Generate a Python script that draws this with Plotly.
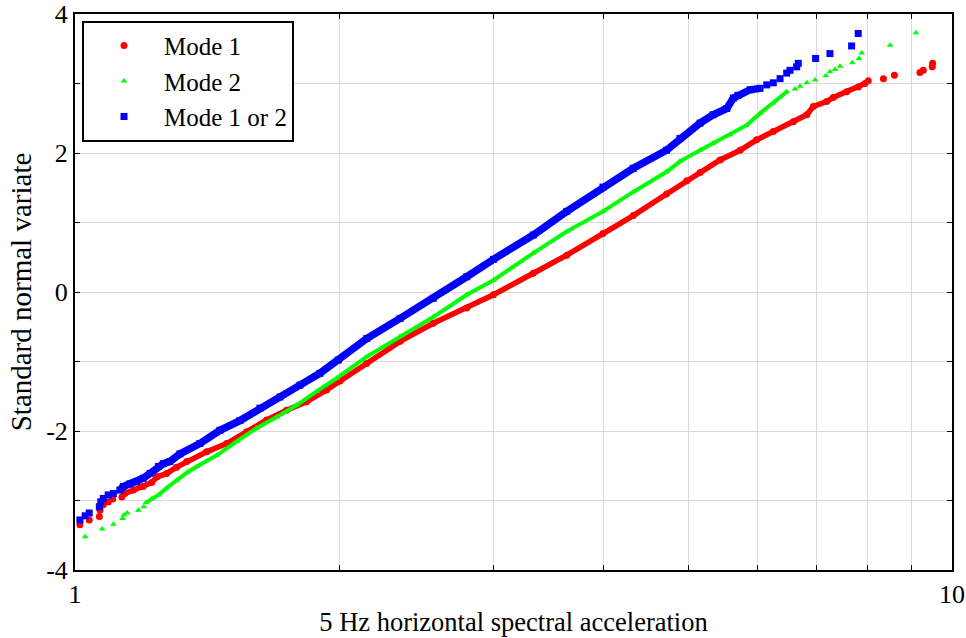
import plotly.graph_objects as go

# ---------------- data ----------------
# Mode 1 (red circles)
mode1_x = [1.013, 1.038, 1.066, 1.068, 1.077, 1.091, 1.104, 1.131, 1.140, 1.166,
           1.196, 1.223, 1.241, 1.272, 1.306, 1.341, 1.413, 1.489, 1.569, 1.654,
           1.743, 1.837, 1.936, 2.005, 2.151, 2.348, 2.562, 2.797, 3.000, 3.331,
           3.637, 4.000, 4.331, 4.727, 4.984, 5.161, 5.439, 5.733, 5.987, 6.255,
           6.592, 6.830, 6.948, 7.195, 7.321, 7.584, 7.819, 7.957, 8.026, 8.352,
           8.596, 9.193, 9.274, 9.495, 9.504]
mode1_y = [-3.35, -3.28, -3.23, -3.14, -3.06, -3.02, -2.98, -2.95, -2.90, -2.85,
           -2.80, -2.74, -2.66, -2.61, -2.52, -2.44, -2.30, -2.18, -2.01, -1.84,
           -1.70, -1.58, -1.41, -1.28, -1.03, -0.71, -0.45, -0.23, -0.04, 0.27,
           0.53, 0.84, 1.10, 1.41, 1.60, 1.72, 1.90, 2.04, 2.19, 2.31,
           2.45, 2.55, 2.67, 2.74, 2.80, 2.88, 2.95, 3.00, 3.04, 3.07,
           3.12, 3.16, 3.19, 3.24, 3.29]

# Mode 2 (green triangles)
mode2_x = [1.027, 1.074, 1.106, 1.133, 1.137, 1.147, 1.181, 1.198, 1.205, 1.223,
           1.245, 1.272, 1.306, 1.341, 1.377, 1.451, 1.529, 1.611, 1.698, 1.789,
           1.886, 1.988, 2.151, 2.348, 2.562, 2.797, 3.000, 3.331, 3.637, 4.000,
           4.331, 4.727, 4.896, 5.161, 5.340, 5.584, 5.833, 6.041, 6.255, 6.479,
           6.622, 6.710, 6.830, 6.980, 7.178, 7.258, 7.355, 7.452, 7.697, 7.834,
           7.889, 8.500, 9.097]
mode2_y = [-3.52, -3.41, -3.34, -3.26, -3.21, -3.18, -3.14, -3.09, -3.03, -2.98,
           -2.92, -2.82, -2.71, -2.60, -2.51, -2.35, -2.15, -1.96, -1.80, -1.63,
           -1.43, -1.24, -0.93, -0.64, -0.36, -0.04, 0.17, 0.56, 0.87, 1.16,
           1.44, 1.73, 1.88, 2.04, 2.14, 2.26, 2.40, 2.57, 2.72, 2.88,
           2.92, 2.96, 3.01, 3.05, 3.11, 3.17, 3.20, 3.25, 3.30, 3.36,
           3.44, 3.55, 3.73]

# Mode 1 or 2 (blue squares)
mode12_x = [1.013, 1.027, 1.038, 1.066, 1.070, 1.077, 1.091, 1.106, 1.125, 1.135,
            1.155, 1.176, 1.196, 1.218, 1.245, 1.261, 1.283, 1.317, 1.388, 1.463,
            1.542, 1.625, 1.713, 1.805, 1.902, 1.996, 2.151, 2.348, 2.562, 2.797,
            3.000, 3.331, 3.637, 4.000, 4.331, 4.727, 4.896, 5.161, 5.340, 5.536,
            5.632, 5.702, 5.884, 6.041, 6.148, 6.255, 6.367, 6.479, 6.536, 6.651,
            6.679, 6.990, 7.258, 7.683, 7.817]
mode12_y = [-3.28, -3.22, -3.18, -3.09, -3.02, -2.97, -2.92, -2.90, -2.85, -2.80,
            -2.76, -2.73, -2.68, -2.61, -2.51, -2.47, -2.44, -2.33, -2.18, -1.99,
            -1.85, -1.67, -1.51, -1.34, -1.17, -0.98, -0.67, -0.38, -0.09, 0.22,
            0.47, 0.82, 1.16, 1.51, 1.78, 2.04, 2.21, 2.43, 2.55, 2.64,
            2.79, 2.83, 2.91, 2.93, 2.98, 3.01, 3.07, 3.15, 3.19, 3.24,
            3.29, 3.36, 3.43, 3.54, 3.72]

series_names = ["Mode 1", "Mode 2", "Mode 1 or 2"]

x_tick_vals = [1, 2, 3, 4, 5, 6, 7, 8, 9, 10]
x_tick_text = ["1", "", "", "", "", "", "", "", "", "10"]
y_tick_vals = [-4, -3, -2, -1, 0, 1, 2, 3, 4]
y_tick_text = ["-4", "", "-2", "", "0", "", "2", "", "4"]

# ---------------- styling ----------------
FONT = "'Liberation Serif', 'Times New Roman', serif"
styles = [
    dict(color="#ff0000", symbol="circle", size=7, lw=5.5, lo=1.12, hi=7.96),
    dict(color="#00ff00", symbol="triangle-up", size=6, lw=4, lo=1.20, hi=6.50),
    dict(color="#0000ff", symbol="square", size=7, lw=7.5, lo=1.12, hi=6.05),
]
data = [(mode1_x, mode1_y), (mode2_x, mode2_y), (mode12_x, mode12_y)]

fig = go.Figure()
for (xs, ys), name, st in zip(data, series_names, styles):
    bx = [x for x in xs if st["lo"] <= x <= st["hi"]]
    by = [y for x, y in zip(xs, ys) if st["lo"] <= x <= st["hi"]]
    fig.add_trace(go.Scatter(x=bx, y=by, mode="lines", showlegend=False,
                             hoverinfo="skip",
                             line=dict(color=st["color"], width=st["lw"])))
    fig.add_trace(go.Scatter(x=xs, y=ys, mode="markers", name=name,
                             marker=dict(color=st["color"], symbol=st["symbol"],
                                         size=st["size"], line=dict(width=0))))

axis_common = dict(
    showline=True, linecolor="black", linewidth=2, mirror="ticks",
    ticks="inside", ticklen=5, tickcolor="black", tickwidth=1,
    showgrid=True, gridcolor="#d9d9d9", gridwidth=1, zeroline=False,
    automargin=False,
    tickfont=dict(family=FONT, size=26, color="black"),
)

fig.update_layout(
    width=966, height=638,
    margin=dict(l=75, r=14, t=14, b=68),
    paper_bgcolor="white", plot_bgcolor="white",
    font=dict(family=FONT, color="black"),
    xaxis=dict(type="log", range=[0, 1], tickvals=x_tick_vals, ticktext=x_tick_text,
               title=dict(text="5 Hz horizontal spectral acceleration",
                          font=dict(family=FONT, size=26.5), standoff=4),
               **axis_common),
    yaxis=dict(range=[-4, 4], tickvals=y_tick_vals, ticktext=y_tick_text,
               title=dict(text="Standard normal variate",
                          font=dict(family=FONT, size=29), standoff=6),
               **axis_common),
    legend=dict(x=0.008, y=0.988, xanchor="left", yanchor="top",
                bgcolor="white", bordercolor="black", borderwidth=2,
                font=dict(family=FONT, size=25, color="black"),
                itemwidth=70, tracegroupgap=0),
)

fig.write_html("out.html")
